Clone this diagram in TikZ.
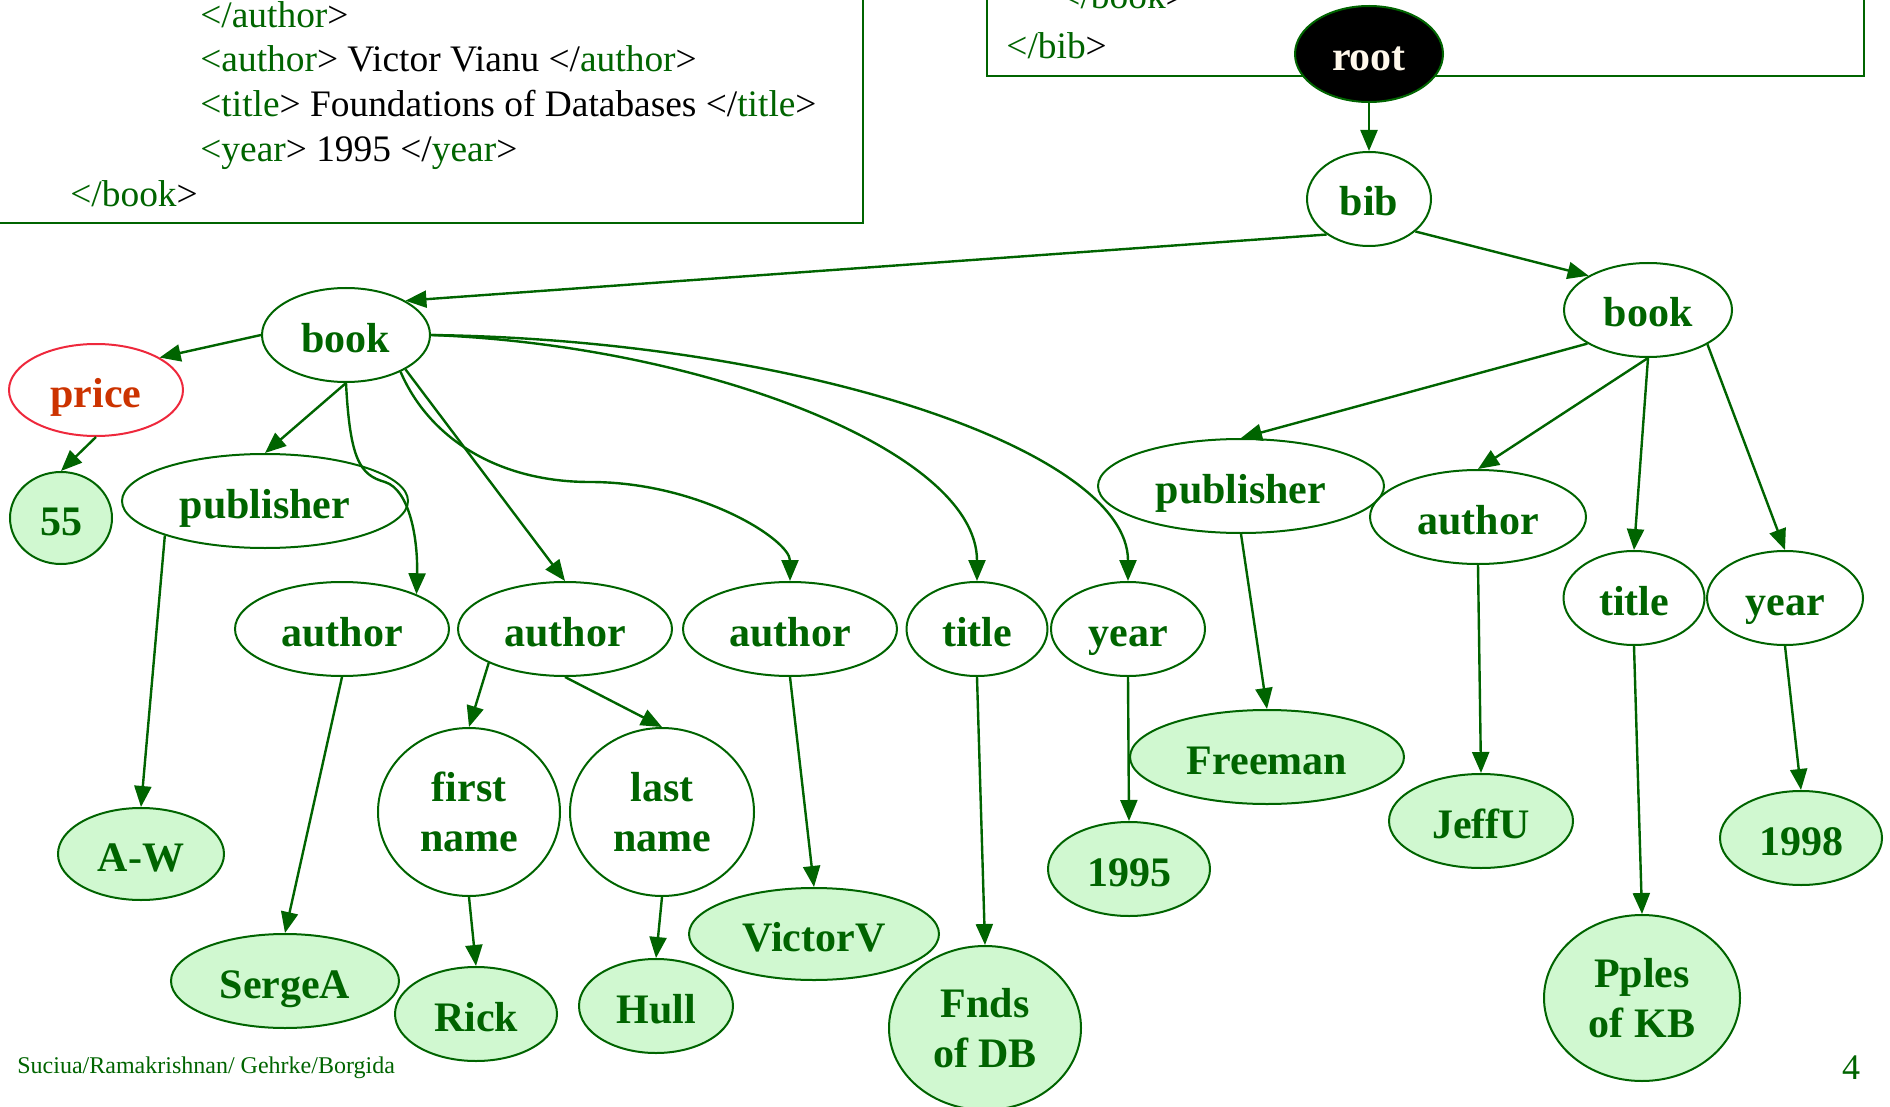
\documentclass[tikz,border=0pt]{standalone}
\usepackage{fontspec}
\setmainfont{Liberation Serif}
\usetikzlibrary{shapes.geometric,arrows.meta}
\definecolor{dg}{RGB}{0,100,0}
\definecolor{lg}{RGB}{208,248,208}
\definecolor{pricered}{RGB}{238,40,60}
\definecolor{pricetext}{RGB}{204,51,0}
\definecolor{cream}{RGB}{255,248,235}
\newcommand\greentag[1]{\textcolor{dg}{#1}}
\tikzset{
  tnb/.style={ellipse, draw=dg, line width=1pt, inner sep=0pt, text=dg,
    font=\bfseries\fontsize{21}{25}\selectfont, align=center},
  tn/.style={tnb, text height=17pt, text depth=0pt},
  leaf/.style={tn, fill=lg},
  leafm/.style={tnb, fill=lg},
  sz/.style 2 args={minimum width=#1pt, minimum height=#2pt},
  arr/.style={draw=dg, line width=1.2pt, -{Triangle[length=10.5pt,width=8.5pt]}},
  codebox/.style={draw=dg, line width=0.8pt},
  code/.style={anchor=base west, inner sep=0pt, font=\fontsize{18.7}{22}\selectfont},
}
\begin{document}
\begin{tikzpicture}[x=0.5pt,y=-0.5pt]
\useasboundingbox (0,0) rectangle (1890,1107);
\clip (0,0) rectangle (1890,1107);
% code boxes
\draw[codebox] (-20,-20) rectangle (863,223);
\draw[codebox] (987,-20) rectangle (1864,76);
\node[code] (c1) at (200,28) {\greentag{</author}>};
\node[code] (c2) at (200,72) {\greentag{<author}> Victor Vianu </\greentag{author}>};
\node[code] (c3) at (200,117) {\greentag{<title}> Foundations of Databases </\greentag{title}>};
\node[code] (c4) at (200,162) {\greentag{<year}> 1995 </\greentag{year}>};
\node[code] (c5) at (70,207) {\greentag{</book}>};
\node[code] (c6) at (1059,9) {\greentag{</book}>};
\node[code] (c7) at (1006,59) {\greentag{</bib}>};
% nodes
\node[tn, sz={74}{48}, fill=black, text=cream] (root) at (1369,54) {root};
\node[tn, sz={62}{47}] (bib) at (1369,199) {bib};
\node[tn, sz={84}{47}] (bookR) at (1648,310) {book};
\node[tn, sz={84}{47}] (bookL) at (346,335) {book};
\node[tn, sz={87}{46}, draw=pricered, text=pricetext] (price) at (96,390) {price};
\node[leaf, sz={51}{46}] (n55) at (61,518) {55};
\node[tn, sz={143}{47}] (pubL) at (265,501) {publisher};
\node[tn, sz={107}{47}] (a1) at (342,629) {author};
\node[tn, sz={107}{47}] (a2) at (565,629) {author};
\node[tn, sz={107}{47}] (a3) at (790,629) {author};
\node[tn, sz={70.5}{47}] (title) at (977,629) {title};
\node[tn, sz={77}{47}] (year) at (1128,629) {year};
\node[tnb, sz={91}{84}] (fn) at (469,812) {first\\name};
\node[tnb, sz={92}{84}] (ln) at (662,812) {last\\name};
\node[leaf, sz={83}{46}] (aw) at (141,854) {A-W};
\node[leaf, sz={114}{47}] (serge) at (285,981) {SergeA};
\node[leaf, sz={81}{47}] (rick) at (476,1014) {Rick};
\node[leaf, sz={77}{47}] (hull) at (656,1006) {Hull};
\node[leaf, sz={125}{46}] (victor) at (814,934) {VictorV};
\node[leafm, sz={96}{82}] (fnds) at (985,1028) {Fnds\\of DB};
\node[leaf, sz={81}{47}] (n1995) at (1129,869) {1995};
\node[leaf, sz={137}{47}] (freeman) at (1267,757) {Freeman};
\node[tn, sz={143}{47}] (pubR) at (1241,486) {publisher};
\node[tn, sz={108}{47}] (authorR) at (1478,517) {author};
\node[tn, sz={70.5}{47}] (titleR) at (1634,598) {title};
\node[tn, sz={78}{47}] (yearR) at (1785,598) {year};
\node[leaf, sz={92}{47}] (jeffu) at (1481,821) {JeffU};
\node[leaf, sz={81}{47}] (n1998) at (1801,838) {1998};
\node[leafm, sz={98}{83}] (pples) at (1642,998) {Pples\\of KB};
% footer
\node[anchor=base west, inner sep=0pt, text=dg, font=\fontsize{12}{14}\selectfont] (foot) at (17,1073) {Suciua/Ramakrishnan/ Gehrke/Borgida};
\node[anchor=base, inner sep=0pt, text=dg, font=\fontsize{18}{20}\selectfont] (pg) at (1851,1079) {4};
% edges
\draw[arr] (root) -- (bib);
\draw[arr] (bib.220) -- (bookL.30);
\draw[arr] (bib.325) -- (bookR.150);
\draw[arr] (bookL.west) -- (price.27);
\draw[arr] (price.south) -- (n55.north);
\draw[arr] (bookL.south) -- (pubL.north);
\draw[arr] (bookL.south) .. controls (350,460) and (360,475) .. (385,482) .. controls (410,490) and (418,540) .. (a1.25);
\draw[arr] (bookL.330) -- (a2.north);
\draw[arr] (bookL.326) .. controls (430,440) and (500,482) .. (590,482) .. controls (700,482) and (790,540) .. (a3.north);
\draw[arr] (bookL.east) .. controls (700,345) and (977,450) .. (title.north);
\draw[arr] (bookL.east) .. controls (800,340) and (1128,450) .. (year.north);
\draw[arr] (pubL.199) -- (aw.north);
\draw[arr] (a1.south) -- (serge.north);
\draw[arr] (a2.204) -- (fn.north);
\draw[arr] (a2.south) -- (ln.north);
\draw[arr] (a3.south) -- (victor.north);
\draw[arr] (title.south) -- (fnds.north);
\draw[arr] (year.south) -- (n1995.north);
\draw[arr] (fn.south) -- (rick.north);
\draw[arr] (ln.south) -- (hull.north);
\draw[arr] (bookR.209) -- (pubR.north);
\draw[arr] (bookR.south) -- (authorR.north);
\draw[arr] (bookR.south) -- (titleR.north);
\draw[arr] (bookR.330) -- (yearR.north);
\draw[arr] (pubR.south) -- (freeman.north);
\draw[arr] (authorR.south) -- (jeffu.north);
\draw[arr] (titleR.south) -- (pples.north);
\draw[arr] (yearR.south) -- (n1998.north);
\end{tikzpicture}
\end{document}
